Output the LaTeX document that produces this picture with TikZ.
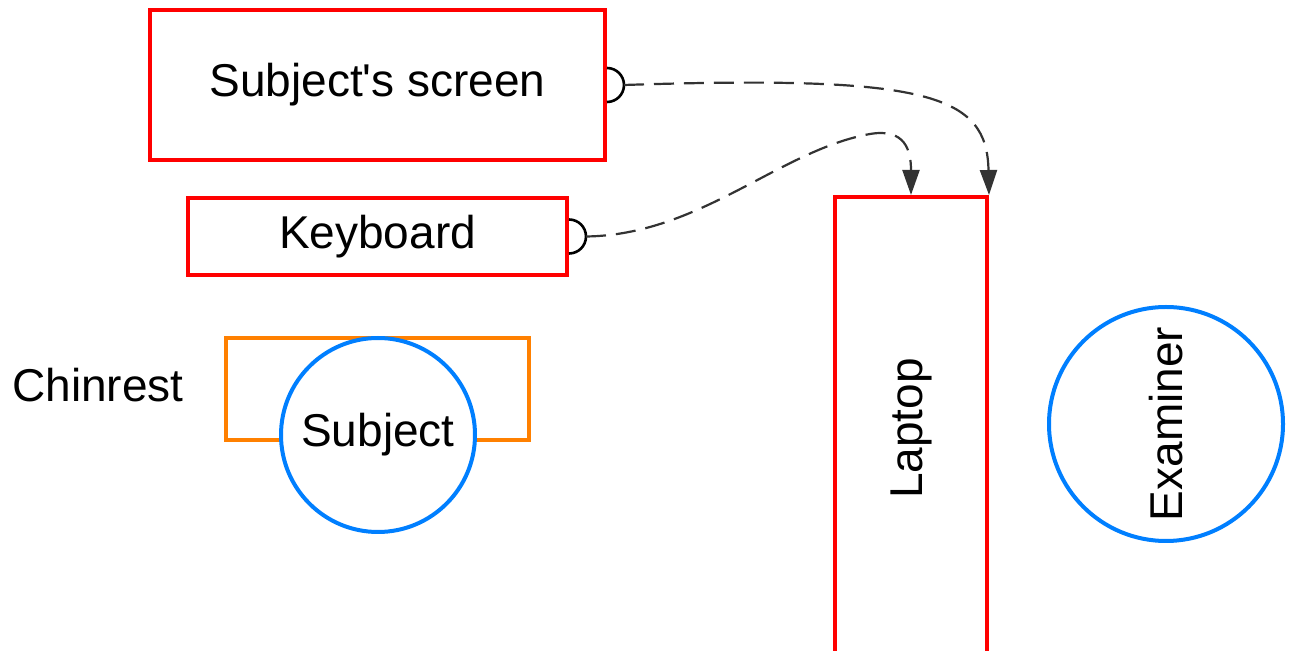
\documentclass[tikz,border=0pt]{standalone}
\usepackage{fontspec}
\setmainfont{Liberation Sans}
\usetikzlibrary{arrows.meta, positioning}

\definecolor{boxred}{HTML}{FF0000}
\definecolor{chinorange}{HTML}{FF8000}
\definecolor{personblue}{HTML}{007FFF}
\definecolor{linkgray}{HTML}{333333}

\begin{document}
\begin{tikzpicture}[
        x = 0.5pt, y = -0.5pt,
        font = \fontsize{23}{27}\selectfont,
        >= {Triangle[width = 8.5pt, length = 12.5pt]},
        device/.style = {draw = boxred, line width = 2pt, inner sep = 0pt},
        chin/.style = {draw = chinorange, line width = 2pt, minimum width = 151.5pt, minimum height = 51pt},
        person/.style = {circle, draw = personblue, line width = 2pt, fill = white, inner sep = 0pt},
        port/.style = {draw = black, line width = 1.3pt},
        link/.style = {draw = linkgray, line width = 1.1pt, dash pattern = on 10pt off 5pt, ->}
    ]

        \useasboundingbox (0,0) rectangle (1291,651);

        \node[device, minimum width = 227.5pt, minimum height = 75pt] (screen) at (377.5,85) {Subject\textquotesingle s screen};
        \node[device, minimum width = 189.5pt, minimum height = 38.5pt] (keyboard) at (377.5,236.5) {Keyboard};
        \node[device, minimum width = 76pt, minimum height = 231.5pt] (laptop) at (911,428.5) {\rotatebox{90}{Laptop}};

        \node[chin] (chinrest) at (377.5,389) {};
        \node[person, minimum size = 97pt] (subject) at (378,435) {Subject};
        \node[inner sep = 0pt, left = 20pt of chinrest.west, yshift = 2pt] (chinlabel) {Chinrest};

        \node[person, minimum size = 117pt] (examiner) at (1166,424) {\rotatebox{90}{Examiner}};

        % socket half circles
        \draw[port] (screen.east) ++(0,8.5pt) arc[start angle = 90, end angle = -90, radius = 8.5pt];
        \draw[port] (keyboard.east) ++(0,8.5pt) arc[start angle = 90, end angle = -90, radius = 8.5pt];
        \coordinate (screenport) at ([xshift = 8.5pt]screen.east);
        \coordinate (keyport) at ([xshift = 8.5pt]keyboard.east);

        \path[link]
            (screenport) .. controls (930,75) and (987,95) .. (laptop.north east);
        \path[link]
            (keyport) .. controls (700,235) and (780,150) .. (870,134)
                      .. controls (905,128) and (911,150) .. (laptop.north);

    \end{tikzpicture}
\end{document}
